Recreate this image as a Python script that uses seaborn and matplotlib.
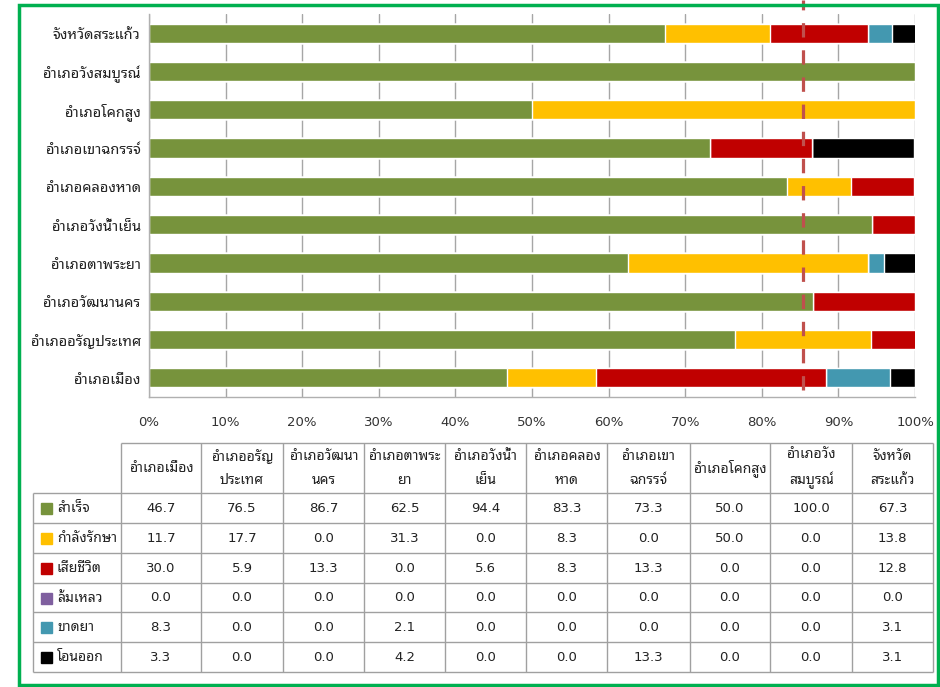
import matplotlib
matplotlib.use("Agg")
import matplotlib.pyplot as plt
from matplotlib.patches import Rectangle
import pandas as pd
import seaborn as sns

# districts in table order (left to right)
districts = ["อำเภอเมือง", "อำเภออรัญประเทศ", "อำเภอวัฒนานคร", "อำเภอตาพระยา",
             "อำเภอวังน้ำเย็น", "อำเภอคลองหาด", "อำเภอเขาฉกรรจ์", "อำเภอโคกสูง",
             "อำเภอวังสมบูรณ์", "จังหวัดสระแก้ว"]
header_labels = ["อำเภอเมือง", "อำเภออรัญ\nประเทศ", "อำเภอวัฒนา\nนคร", "อำเภอตาพระ\nยา",
                 "อำเภอวังน้ำ\nเย็น", "อำเภอคลอง\nหาด", "อำเภอเขา\nฉกรรจ์", "อำเภอโคกสูง",
                 "อำเภอวัง\nสมบูรณ์", "จังหวัด\nสระแก้ว"]
statuses = ["สำเร็จ", "กำลังรักษา", "เสียชีวิต", "ล้มเหลว", "ขาดยา", "โอนออก"]
colors = ["#77933C", "#FFC000", "#C00000", "#7F5F9F", "#4398B0", "#000000"]

success = [46.7, 76.5, 86.7, 62.5, 94.4, 83.3, 73.3, 50.0, 100.0, 67.3]
treating = [11.7, 17.7, 0.0, 31.3, 0.0, 8.3, 0.0, 50.0, 0.0, 13.8]
died = [30.0, 5.9, 13.3, 0.0, 5.6, 8.3, 13.3, 0.0, 0.0, 12.8]
failed = [0.0, 0.0, 0.0, 0.0, 0.0, 0.0, 0.0, 0.0, 0.0, 0.0]
defaulted = [8.3, 0.0, 0.0, 2.1, 0.0, 0.0, 0.0, 0.0, 0.0, 3.1]
transferred = [3.3, 0.0, 0.0, 4.2, 0.0, 0.0, 13.3, 0.0, 0.0, 3.1]
target_line = 85.4

series = [success, treating, died, failed, defaulted, transferred]

df = pd.DataFrame(dict(zip(statuses, series)), index=districts)
cum = df.cumsum(axis=1)

sns.set_style("white")
plt.rcParams["font.family"] = ["DejaVu Sans", "Noto Sans Thai Looped"]

W, H = 940, 687
fig = plt.figure(figsize=(W / 100, H / 100), dpi=100)


def fbox(x0, y0, x1, y1):
    # pixel box -> figure fraction [left, bottom, width, height]
    return [x0 / W, 1 - y1 / H, (x1 - x0) / W, (y1 - y0) / H]


ax = fig.add_axes(fbox(149, 14, 915, 397))
order = list(reversed(districts))

# stacked bars: draw cumulative totals from the last status back to the first
for i in range(len(statuses) - 1, -1, -1):
    d = cum[statuses[i]].reset_index()
    d.columns = ["district", "value"]
    sns.barplot(data=d, x="value", y="district", order=order, color=colors[i],
                width=0.5, saturation=1, orient="h", ax=ax, zorder=2)

ax.set_xlim(0, 100)
ax.set_ylim(9.5, -0.5)
ax.set_xticks(range(0, 101, 10))
ax.set_xticklabels([f"{v}%" for v in range(0, 101, 10)], fontsize=9.5, color="#333333")
ax.tick_params(axis="x", length=0, pad=14)
ax.tick_params(axis="y", length=0, pad=6, labelsize=10.5, labelcolor="#222222")
ax.set_xlabel("")
ax.set_ylabel("")
ax.grid(axis="x", color="#A6A6A6", linewidth=1, zorder=0)
ax.set_axisbelow(True)
for s in ["top", "right"]:
    ax.spines[s].set_visible(False)
for s in ["left", "bottom"]:
    ax.spines[s].set_color("#B0B0B0")
    ax.spines[s].set_linewidth(1)

ax.axvline(target_line, ymin=(397 - 390) / 383, ymax=1 + 14 / 383, color="#C0504D",
           linewidth=2.3, linestyle=(0, (4.5, 4)), clip_on=False, zorder=5)

# data table
tb = fig.add_axes(fbox(33, 443, 933, 672))
tb.set_xlim(33, 933)
tb.set_ylim(672, 443)
tb.axis("off")
col_x = [33, 121, 201, 283, 364, 445, 526, 607, 690, 770, 852, 933]
row_y = [443, 493, 523, 553, 583, 612, 642, 672]
lc = "#A0A0A0"
tb.hlines(443, 121, 933, color=lc, linewidth=1, clip_on=False)
tb.hlines(row_y[1:], 33, 933, color=lc, linewidth=1, clip_on=False)
tb.vlines(33, 493, 672, color=lc, linewidth=1, clip_on=False)
tb.vlines(col_x[1:], 443, 672, color=lc, linewidth=1, clip_on=False)

for j, lab in enumerate(header_labels):
    cx = (col_x[j + 1] + col_x[j + 2]) / 2
    tb.text(cx, (row_y[0] + row_y[1]) / 2, lab, ha="center", va="center",
            fontsize=10, linespacing=1.9, color="#222222")

for i, st in enumerate(statuses):
    cy = (row_y[i + 1] + row_y[i + 2]) / 2
    tb.add_patch(Rectangle((41, cy - 5), 11, 11, color=colors[i], clip_on=False))
    tb.text(57, cy, st, ha="left", va="center", fontsize=10, color="#222222")
    for j, v in enumerate(series[i]):
        cx = (col_x[j + 1] + col_x[j + 2]) / 2
        tb.text(cx, cy, f"{v:.1f}", ha="center", va="center", fontsize=9.5, color="#222222")

# green frame
fig.patches.append(Rectangle((19 / W, 1 - 685 / H), (938 - 19) / W, (685 - 5) / H,
                             transform=fig.transFigure, fill=False,
                             edgecolor="#00B050", linewidth=2.5))

fig.savefig("out.png", dpi=100)
